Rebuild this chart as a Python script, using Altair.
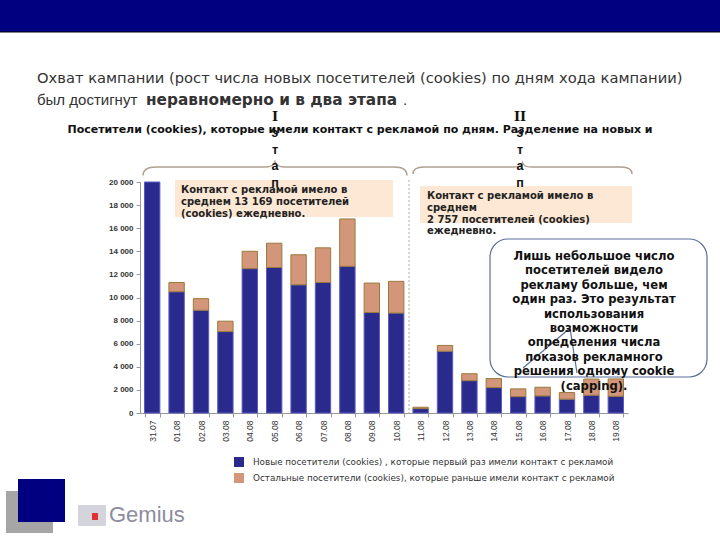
import altair as alt
import pandas as pd

# ---- data ----
dates = ["31.07", "01.08", "02.08", "03.08", "04.08", "05.08", "06.08", "07.08",
         "08.08", "09.08", "10.08", "11.08", "12.08", "13.08", "14.08", "15.08",
         "16.08", "17.08", "18.08", "19.08"]
new_visitors = [20000, 10500, 8900, 7050, 12500, 12600, 11100, 11300, 12700, 8700,
                8650, 380, 5350, 2800, 2200, 1420, 1480, 1200, 1540, 1450]
other_visitors = [0, 800, 1000, 900, 1500, 2100, 2600, 3000, 4100, 2550,
                  2750, 120, 500, 600, 780, 670, 750, 570, 1400, 1500]
s_new = "Новые посетители (cookies) , которые первый раз имели контакт с рекламой"
s_other = "Остальные посетители (cookies), которые  раньше имели контакт с рекламой"
y_ticks = [0, 2000, 4000, 6000, 8000, 10000, 12000, 14000, 16000, 18000, 20000]

rows = []
for d, n, o in zip(dates, new_visitors, other_visitors):
    rows.append({"date": d, "series": s_new, "value": n, "ord": 0})
    if o > 0:
        rows.append({"date": d, "series": s_other, "value": o, "ord": 1})
df = pd.DataFrame(rows)

BLUE = "#2A2A8C"
BLUE_EDGE = "#5C5CC4"
TAN = "#D3967A"
TAN_EDGE = "#9A7A3A"
FONT = "Liberation Sans"
WIDE = "DejaVu Sans"
L, T = 140, 182  # plot origin on the page

one = pd.DataFrame({"_": [0]})


def px(x):
    return alt.value(x - L)


def py(y):
    return alt.value(y - T)


def txt(text, x, y, size, weight="normal", align="left", baseline="middle",
        color="#333333", font=FONT, lineHeight=None):
    kw = dict(fontSize=size, fontWeight=weight, align=align, baseline=baseline,
              color=color, font=font)
    if lineHeight is not None:
        kw["lineHeight"] = lineHeight
    return alt.Chart(one).mark_text(**kw).encode(text=alt.value(text), x=px(x), y=py(y))


def rect(x1, x2, y1, y2, fill, stroke=None, sw=0, radius=0):
    kw = dict(fill=fill, strokeWidth=sw, cornerRadius=radius)
    if stroke:
        kw["stroke"] = stroke
    return alt.Chart(one).mark_rect(**kw).encode(x=px(x1), x2=px(x2), y=py(y1), y2=py(y2))


def seg(x1, y1, x2, y2, color, sw=1, dash=None):
    kw = dict(color=color, strokeWidth=sw)
    if dash:
        kw["strokeDash"] = dash
    return alt.Chart(one).mark_rule(**kw).encode(x=px(x1), y=py(y1), x2=px(x2), y2=py(y2))


BRACE = ("M -1 0.065 C -1 0.02 -0.97 0 -0.9 0 L -0.08 0 C -0.03 0 -0.01 -0.01 0 -0.04 "
         "C 0.01 -0.01 0.03 0 0.08 0 L 0.9 0 C 0.97 0 1 0.02 1 0.065")


def brace(x1, x2, y):
    w = x2 - x1
    return alt.Chart(one).mark_point(shape=BRACE, filled=False, strokeWidth=1.5,
                                     color="#B0A090", opacity=1).encode(
        x=px((x1 + x2) / 2), y=py(y), size=alt.value(w * w))


# ---- bars ----
bars = alt.Chart(df).mark_bar(strokeWidth=1).encode(
    x=alt.X("date:N", sort=dates,
            scale=alt.Scale(paddingInner=0.37, paddingOuter=0.185),
            axis=alt.Axis(title=None, labelAngle=-90, labelFontSize=8.5, labelColor="#333333",
                          labelFont=FONT, domainColor="#999999", tickColor="#999999",
                          tickSize=4, tickBand="extent", labelPadding=3)),
    y=alt.Y("value:Q", stack="zero", scale=alt.Scale(domain=[0, 20000], nice=False),
            axis=alt.Axis(title=None, values=y_ticks, grid=False,
                          labelExpr="replace(format(datum.value, ',d'), ',', ' ')",
                          labelFontSize=8, labelFontWeight="bold", labelColor="#333333",
                          labelFont=FONT, domainColor="#999999", tickColor="#999999",
                          tickSize=4, labelPadding=3)),
    color=alt.Color("series:N", scale=alt.Scale(domain=[s_new, s_other], range=[BLUE, TAN]),
                    legend=alt.Legend(title=None, orient="none", legendX=94, legendY=275,
                                      symbolType="square", symbolSize=100, labelFontSize=8.8,
                                      labelColor="#333333", labelFont=WIDE, labelLimit=600,
                                      labelOffset=9, rowPadding=6, padding=0,
                                      symbolStrokeWidth=0, symbolOpacity=1)),
    stroke=alt.Stroke("series:N", scale=alt.Scale(domain=[s_new, s_other],
                                                  range=[BLUE_EDGE, TAN_EDGE]), legend=None),
    order=alt.Order("ord:Q"),
)

layers = [
    # header band
    rect(0, 720, 0, 32, "#000080"),
    seg(0, 32, 720, 32, "#000000", 1),
    # intro text
    txt("Охват кампании (рост числа новых посетителей (cookies) по дням хода кампании)",
        37, 79, 14.7, color="#333333", font=WIDE),
    txt("был достигнут", 37, 100, 15, color="#333333", font=FONT),
    txt("неравномерно и в два этапа", 146, 100, 15.3, weight="bold", color="#333333", font=WIDE),
    txt(".", 403, 100, 15, color="#333333", font=FONT),
    # braces
    brace(143, 407, 167),
    brace(413, 632, 167),
    # annotation boxes
    rect(175, 393, 180, 217, "#FCE8D4"),
    rect(420, 632, 186, 223, "#FCE8D4"),
    # stage labels
    txt("I", 275, 117, 13, weight="bold", align="center", color="#111111", font="DejaVu Serif"),
    txt("II", 520, 117, 13, weight="bold", align="center", color="#111111", font="DejaVu Serif"),
    txt(["э", "т", "а", "п"], 275, 137, 12.5, weight="bold", align="center",
        baseline="alphabetic", color="#111111", lineHeight=16.7),
    txt(["э", "т", "а", "п"], 520, 137, 12.5, weight="bold", align="center",
        baseline="alphabetic", color="#111111", lineHeight=16.7),
    txt("Посетители  (cookies), которые имели контакт с рекламой по дням. Разделение на новых и",
        360, 130, 11, weight="bold", align="center", color="#111111", font=WIDE),
    # separator
    seg(409, 180, 409, 413, "#AAAAAA", 1, [2, 2]),
    bars,
    txt(["Контакт с рекламой имело в", "среднем 13 169 посетителей", "(cookies) ежедневно."],
        181, 185, 10, weight="bold", baseline="top", color="#222222", lineHeight=11.8,
        font=WIDE),
    txt(["Контакт с рекламой имело в", "среднем", "2 757 посетителей (cookies)", "ежедневно."],
        427, 191, 10, weight="bold", baseline="top", color="#222222", lineHeight=11.8,
        font=WIDE),
    # callout
    rect(490, 707, 239, 377, "#FFFFFF", stroke="#5A6E9A", sw=1.2, radius=18),
    seg(523, 368, 570, 328, "#5A6E9A", 1.2),
    seg(570, 328, 577, 373, "#5A6E9A", 1.2),
    txt(["Лишь небольшое число", "посетителей видело", "рекламу больше, чем",
         "один раз. Это результат", "использования", "возможности",
         "определения числа", "показов рекламного", "решения одному cookie",
         "(capping)."],
        594, 251, 11.6, weight="bold", align="center", baseline="top",
        color="#111111", lineHeight=14.4, font=WIDE),
    # logo
    rect(6, 53, 491, 533, "#A6A6A6"),
    rect(18, 65, 479, 522, "#000080"),
    rect(78, 106, 505, 526, "#D4D4DC"),
    rect(92, 98, 513, 520, "#E03030"),
    txt("Gemius", 109, 515, 22, color="#8C8C9C"),
]

chart = alt.layer(*layers).properties(
    width=488, height=231,
    autosize=alt.AutoSizeParams(type="none"),
    padding={"left": L, "top": T, "right": 92, "bottom": 127},
    background="white",
).configure_view(stroke=None)

chart.save("out.html", embed_options={"renderer": "svg", "actions": False})
